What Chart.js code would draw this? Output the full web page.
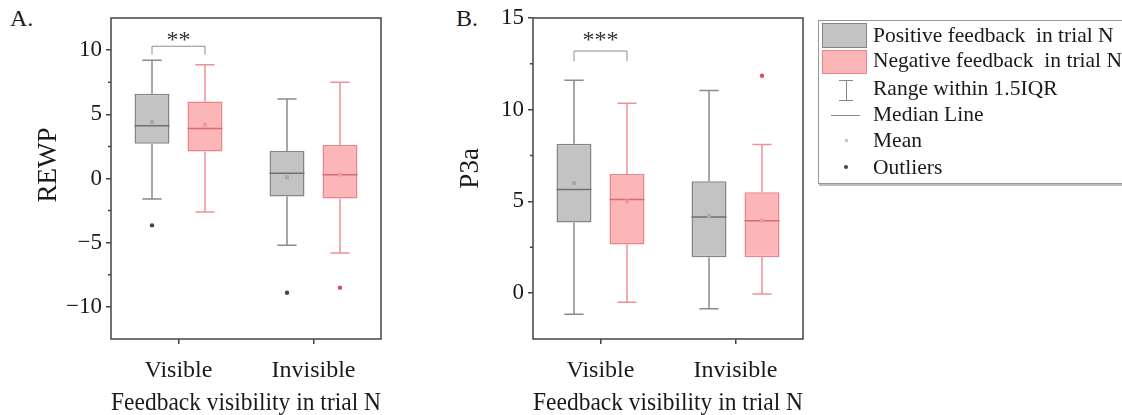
<!DOCTYPE html>
<html>
<head>
<meta charset="utf-8">
<script src="https://cdn.jsdelivr.net/npm/chart.js@4"></script>
<style>
  body { margin: 0; background: #fff; width: 1122px; height: 415px; overflow: hidden; position: relative; font-family: "Liberation Serif", serif; color: #1a1a1a; }
  canvas { position: absolute; top: 0; }
  #chartA { left: 0; }
  #chartB { left: 422px; }
  .panel { position: absolute; top: 5px; font-size: 24px; }
  #legend { position: absolute; left: 818px; top: 20px; width: 330px; height: 162px; border: 1px solid #999; box-shadow: 1px 2px 0 #bbb; background: #fff; }
  #legend .sw { position: absolute; left: 3px; width: 45px; box-sizing: border-box; }
  #legend .txt { position: absolute; left: 54px; font-size: 21.5px; line-height: 22px; white-space: pre; }
</style>
</head>
<body>
<div class="panel" style="left:10px">A.</div>
<div class="panel" style="left:456px">B.</div>
<canvas id="chartA" width="400" height="415"></canvas>
<canvas id="chartB" width="400" height="415"></canvas>

<div id="legend">
  <div class="sw" style="top:2px;height:25px;background:#c3c3c3;border:1.5px solid #858585"></div>
  <div class="sw" style="top:29px;height:24px;background:#fcb6b8;border:1.5px solid #e9848c"></div>
  <div style="position:absolute;left:20px;top:59px;width:14px;height:0;border-top:1.5px solid #888"></div>
  <div style="position:absolute;left:27px;top:59px;width:0;height:21px;border-left:1.5px solid #888"></div>
  <div style="position:absolute;left:20px;top:79px;width:14px;height:0;border-top:1.5px solid #888"></div>
  <div style="position:absolute;left:12px;top:94px;width:29px;height:0;border-top:1.5px solid #888"></div>
  <div style="position:absolute;left:26px;top:118px;width:3px;height:3px;background:#c8c8c8"></div>
  <div style="position:absolute;left:25px;top:144px;width:4px;height:4px;border-radius:2px;background:#444"></div>
  <div class="txt" style="top:3px">Positive feedback  in trial N</div>
  <div class="txt" style="top:28px">Negative feedback  in trial N</div>
  <div class="txt" style="top:56px">Range within 1.5IQR</div>
  <div class="txt" style="top:82px">Median Line</div>
  <div class="txt" style="top:108px">Mean</div>
  <div class="txt" style="top:135px">Outliers</div>
</div>

<script>
const groups = ['Visible', 'Invisible'];

// Panel A - REWP
const rewpPosMin = [-1.6, -5.2];
const rewpPosQ1 = [2.7, -1.4];
const rewpPosMed = [4.1, 0.4];
const rewpPosQ3 = [6.6, 2.15];
const rewpPosMax = [9.2, 6.2];
const rewpPosMean = [4.4, 0.1];
const rewpPosOut = [[-3.65], [-8.9]];

const rewpNegMin = [-2.6, -5.8];
const rewpNegQ1 = [2.1, -1.55];
const rewpNegMed = [3.9, 0.3];
const rewpNegQ3 = [6.0, 2.6];
const rewpNegMax = [8.85, 7.5];
const rewpNegMean = [4.2, 0.3];
const rewpNegOut = [[], [-8.5]];

// Panel B - P3a
const p3aPosMin = [-1.15, -0.85];
const p3aPosQ1 = [3.85, 1.95];
const p3aPosMed = [5.65, 4.15];
const p3aPosQ3 = [8.15, 6.1];
const p3aPosMax = [11.6, 11.05];
const p3aPosMean = [6.0, 4.2];
const p3aPosOut = [[], []];

const p3aNegMin = [-0.5, -0.05];
const p3aNegQ1 = [2.65, 1.95];
const p3aNegMed = [5.1, 3.95];
const p3aNegQ3 = [6.5, 5.5];
const p3aNegMax = [10.35, 8.1];
const p3aNegMean = [5.0, 3.95];
const p3aNegOut = [[], [11.85]];

const grayStyle = { fill: '#c3c3c3', border: '#858585', whisker: '#8a8a8a', median: '#707070', mean: '#a8a8a8', out: '#444' };
const redStyle = { fill: '#fcb6b8', border: '#e9848c', whisker: '#ef9098', median: '#d66a75', mean: '#f09aa0', out: '#e34b5c' };

const FONT = 'Liberation Serif';
const INK = '#1a1a1a';

function makeSet(label, st, min, q1, med, q3, max, mean, out) {
    return {
        label: label,
        data: q1.map((v, i) => [v, q3[i]]),
        backgroundColor: st.fill,
        borderColor: st.border,
        borderWidth: 1.5,
        borderSkipped: false,
        categoryPercentage: 0.785,
        barPercentage: 0.66,
        stats: { st: st, min: min, med: med, max: max, mean: mean, out: out }
    };
}

// whiskers, medians, means, outliers, frame, minor ticks, significance bracket
const boxExtras = {
    id: 'boxExtras',
    afterDatasetsDraw(chart, args, opts) {
        const ctx = chart.ctx;
        const y = chart.scales.y;
        const area = chart.chartArea;
        chart.data.datasets.forEach((ds, di) => {
            const s = ds.stats;
            chart.getDatasetMeta(di).data.forEach((bar, i) => {
                const x = bar.x, cap = bar.width * 0.55;
                const top = Math.min(bar.y, bar.base), bot = Math.max(bar.y, bar.base);
                ctx.save();
                ctx.strokeStyle = s.st.whisker;
                ctx.lineWidth = 1.5;
                ctx.beginPath();
                const yMax = y.getPixelForValue(s.max[i]);
                const yMin = y.getPixelForValue(s.min[i]);
                ctx.moveTo(x, top); ctx.lineTo(x, yMax);
                ctx.moveTo(x - cap / 2, yMax); ctx.lineTo(x + cap / 2, yMax);
                ctx.moveTo(x, bot); ctx.lineTo(x, yMin);
                ctx.moveTo(x - cap / 2, yMin); ctx.lineTo(x + cap / 2, yMin);
                ctx.stroke();
                // median
                ctx.strokeStyle = s.st.median;
                ctx.beginPath();
                const yMed = y.getPixelForValue(s.med[i]);
                ctx.moveTo(x - bar.width / 2, yMed); ctx.lineTo(x + bar.width / 2, yMed);
                ctx.stroke();
                // mean
                ctx.fillStyle = s.st.mean;
                ctx.fillRect(x - 2, y.getPixelForValue(s.mean[i]) - 2, 4, 4);
                // outliers
                ctx.fillStyle = s.st.out;
                s.out[i].forEach(v => {
                    ctx.beginPath();
                    ctx.arc(x, y.getPixelForValue(v), 2.2, 0, Math.PI * 2);
                    ctx.fill();
                });
                ctx.restore();
            });
        });

        ctx.save();
        // frame
        ctx.strokeStyle = '#444';
        ctx.lineWidth = 1.5;
        ctx.strokeRect(area.left, area.top, area.right - area.left, area.bottom - area.top);
        // minor ticks (every 2.5 between labelled ticks)
        ctx.beginPath();
        y.ticks.forEach(t => {
            if (t.value % 5 === 0 || t.value === y.min || t.value === y.max) return;
            const py = y.getPixelForValue(t.value);
            ctx.moveTo(area.left - 3, py); ctx.lineTo(area.left, py);
        });
        ctx.stroke();
        // significance bracket
        const a = chart.getDatasetMeta(0).data[opts.sig.group];
        const b = chart.getDatasetMeta(1).data[opts.sig.group];
        const yTop = y.getPixelForValue(opts.sig.top);
        const yLeg = y.getPixelForValue(opts.sig.leg);
        ctx.strokeStyle = '#8c8c8c';
        ctx.lineWidth = 1;
        ctx.beginPath();
        ctx.moveTo(a.x, yLeg); ctx.lineTo(a.x, yTop); ctx.lineTo(b.x, yTop); ctx.lineTo(b.x, yLeg);
        ctx.stroke();
        ctx.fillStyle = '#333';
        ctx.font = '24px "' + FONT + '"';
        ctx.textAlign = 'center';
        ctx.textBaseline = 'middle';
        ctx.fillText(opts.sig.text, (a.x + b.x) / 2, y.getPixelForValue(opts.sig.textAt));
        ctx.restore();
    }
};

function makeChart(id, title, yMin, yMax, sets, sig) {
    return new Chart(document.getElementById(id), {
        type: 'bar',
        data: { labels: groups, datasets: sets },
        plugins: [boxExtras],
        options: {
            responsive: false,
            animation: false,
            devicePixelRatio: 1,
            layout: { padding: { left: 0, right: 19, top: 18, bottom: 0 } },
            plugins: {
                legend: { display: false },
                tooltip: { enabled: false },
                boxExtras: { sig: sig }
            },
            scales: {
                x: {
                    afterFit: function(scale) { scale.height = 76; },
                    border: { display: false },
                    grid: { drawOnChartArea: false, offset: false, tickLength: 5, color: '#444', lineWidth: 1.5 },
                    ticks: { color: INK, padding: 12, font: { family: FONT, size: 24 } },
                    title: { display: true, text: 'Feedback visibility in trial N', color: INK, padding: { top: 0, bottom: -3 }, font: { family: FONT, size: 24.5 } }
                },
                y: {
                    min: yMin,
                    max: yMax,
                    afterFit: function(scale) { scale.width = 111; },
                    border: { display: false },
                    grid: {
                        drawOnChartArea: false, tickLength: 5, lineWidth: 1.5,
                        color: c => (c.tick && c.tick.value % 5 === 0) ? '#444' : 'rgba(0,0,0,0)'
                    },
                    ticks: {
                        stepSize: 2.5,
                        color: INK,
                        padding: 4,
                        font: { family: FONT, size: 23 },
                        callback: v => v % 5 !== 0 ? '' : (v < 0 ? '\u2212' + Math.abs(v) : String(v))
                    },
                    // leading spaces lift the rotated title a little above the axis centre, as in the figure
                    title: { display: true, text: title, color: INK, padding: { top: 33 }, font: { family: FONT, size: 27 } }
                }
            }
        }
    });
}

makeChart('chartA', '    REWP', -12.5, 12.5, [
    makeSet('Positive feedback  in trial N', grayStyle, rewpPosMin, rewpPosQ1, rewpPosMed, rewpPosQ3, rewpPosMax, rewpPosMean, rewpPosOut),
    makeSet('Negative feedback  in trial N', redStyle, rewpNegMin, rewpNegQ1, rewpNegMed, rewpNegQ3, rewpNegMax, rewpNegMean, rewpNegOut)
], { group: 0, top: 10.3, leg: 9.65, text: '**', textAt: 10.75 });

makeChart('chartB', '   P3a', -2.5, 15, [
    makeSet('Positive feedback  in trial N', grayStyle, p3aPosMin, p3aPosQ1, p3aPosMed, p3aPosQ3, p3aPosMax, p3aPosMean, p3aPosOut),
    makeSet('Negative feedback  in trial N', redStyle, p3aNegMin, p3aNegQ1, p3aNegMed, p3aNegQ3, p3aNegMax, p3aNegMean, p3aNegOut)
], { group: 0, top: 13.2, leg: 12.65, text: '***', textAt: 13.75 });
</script>
</body>
</html>
